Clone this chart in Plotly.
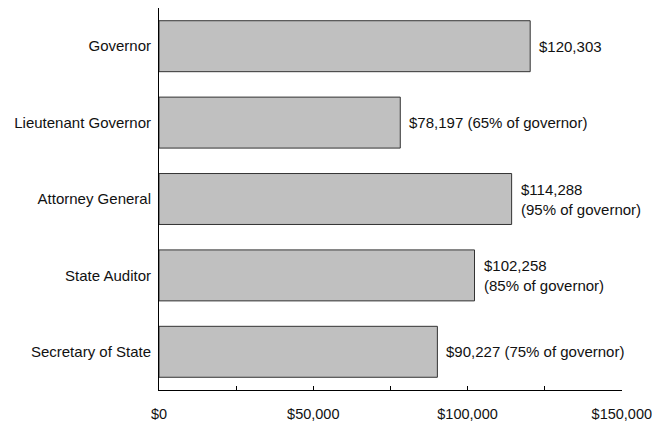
import plotly.graph_objects as go

categories = ["Governor", "Lieutenant Governor", "Attorney General", "State Auditor", "Secretary of State"]
salaries = [120303, 78197, 114288, 102258, 90227]
bar_labels = [
    "$120,303",
    "$78,197 (65% of governor)",
    "$114,288<br>(95% of governor)",
    "$102,258<br>(85% of governor)",
    "$90,227 (75% of governor)",
]
tick_values = [0, 25000, 50000, 75000, 100000, 125000, 150000]
tick_labels = ["$0", "", "$50,000", "", "$100,000", "", "$150,000"]

FONT = "Liberation Sans, Arial, sans-serif"

fig = go.Figure()
fig.add_trace(go.Bar(
    x=salaries, y=categories, orientation="h",
    marker=dict(color="#c0c0c0", line=dict(color="#333333", width=1)),
    width=0.667, hoverinfo="skip",
))
for c, v, t in zip(categories, salaries, bar_labels):
    fig.add_annotation(x=v, y=c, text=t, xanchor="left", yanchor="middle",
                       xshift=7, showarrow=False, align="left",
                       font=dict(family=FONT, size=15, color="#111111"))

fig.update_layout(
    width=652, height=426,
    margin=dict(l=159, r=30, t=8, b=36),
    paper_bgcolor="white", plot_bgcolor="white",
    showlegend=False,
    font=dict(family=FONT, size=15, color="#111111"),
    xaxis=dict(range=[0, 150060], tickvals=tick_values, ticktext=tick_labels,
               ticks="inside", ticklen=4, tickcolor="black",
               showline=True, linecolor="black", linewidth=1,
               showgrid=False, zeroline=False, ticklabelstandoff=11,
               ticklabeloverflow="allow",
               tickfont=dict(size=14.5), automargin=False),
    yaxis=dict(categoryorder="array", categoryarray=categories[::-1],
               showline=True, linecolor="black", linewidth=1,
               showgrid=False, zeroline=False, ticks="", ticklabelstandoff=4,
               automargin=False),
)
fig.write_html("out.html", config={"displayModeBar": False},
               post_script="document.body.style.margin='0';document.body.style.overflow='hidden';")
